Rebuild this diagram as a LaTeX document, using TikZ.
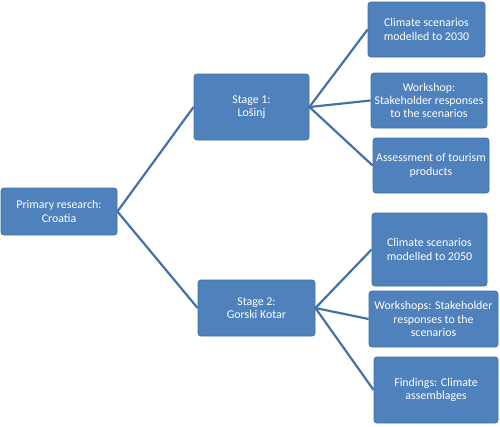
\documentclass[tikz,border=0pt]{standalone}
\usepackage{fontspec}
\setmainfont{Carlito}
\definecolor{boxfill}{HTML}{4F81BD}
\definecolor{boxline}{HTML}{41719C}
\definecolor{conn}{HTML}{4472A8}
\begin{document}
\begin{tikzpicture}[x=1pt,y=-1pt,
  box/.style={rectangle, rounded corners=3pt, fill=boxfill, draw=boxline, line width=0.8pt,
    text=white, align=center, inner sep=1pt,
    font=\fontsize{11.9}{13.3}\selectfont},
  link/.style={draw=conn, line width=2.2pt}]
\useasboundingbox[fill=white] (0,0) rectangle (500,426);
\node[box, minimum width=116pt, minimum height=47pt] (p) at (59,211.5) {Primary research:\\Croatia};
\node[box, minimum width=115pt, minimum height=66pt] (s1) at (251.5,107) {Stage 1:\\Lošinj};
\node[box, minimum width=117pt, minimum height=56pt] (s2) at (256.5,308) {Stage 2:\\Gorski Kotar};
\node[box, minimum width=117pt, minimum height=55pt] (a) at (426.5,29.5) {Climate scenarios\\modelled to 2030};
\node[box, minimum width=116pt, minimum height=55pt] (b) at (429,100.5) {Workshop:\\Stakeholder responses\\to the scenarios};
\node[box, minimum width=116pt, minimum height=55pt] (c) at (431,165.5) {Assessment of tourism\\products};
\node[box, minimum width=115pt, minimum height=73pt] (d) at (429.5,249.5) {Climate scenarios\\modelled to 2050};
\node[box, minimum width=129pt, minimum height=56pt] (e) at (433.5,319) {Workshops: Stakeholder\\responses to the\\scenarios};
\node[box, minimum width=124pt, minimum height=66pt] (f) at (436,390) {Findings: Climate\\assemblages};
\draw[link] (a.west) -- (s1.east) -- (c.west);
\draw[link] (s1.east) -- (b.west);
\draw[link] (d.west) -- (s2.east) -- (f.west);
\draw[link] (s2.east) -- (e.west);
\draw[link] (s1.west) -- (p.east) -- (s2.west);
\end{tikzpicture}
\end{document}
